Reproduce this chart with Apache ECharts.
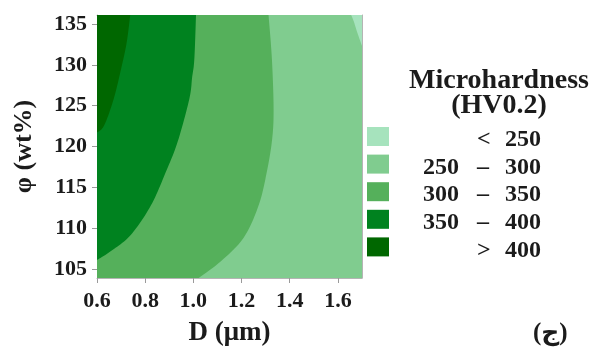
<!DOCTYPE html>
<html>
<head>
<meta charset="utf-8">
<script src="https://cdn.jsdelivr.net/npm/echarts@6/dist/echarts.min.js"></script>
<style>
  html, body { margin: 0; padding: 0; background: #fff; }
  #chart { width: 592px; height: 352px; }
</style>
</head>
<body>
<div id="chart"></div>
<script>
// Axis extents and tick values
const dRange = [0.6, 1.7];
const phiRange = [103.9, 136.1];
const dTicks = [0.6, 0.8, 1.0, 1.2, 1.4, 1.6];
const phiTicks = [105, 110, 115, 120, 125, 130, 135];

// Microhardness classes (HV0.2), lowest first
const levelBounds = [[null, 250], [250, 300], [300, 350], [350, 400], [400, null]];
const levelColors = ['#a6e3bd', '#80cc8f', '#55b05b', '#00821f', '#006700'];

// Contour lines as [D, phi] points, listed from the top edge downwards
const iso250 = [[1.655, 136.1], [1.666, 135.3], [1.680, 134.0], [1.700, 132.3]];
const iso300 = [[1.312, 136.1], [1.326, 130.7], [1.333, 124.6], [1.327, 120.9], [1.305, 116.9],
                [1.271, 112.8], [1.208, 108.8], [1.112, 105.9], [1.022, 103.9]];
const iso350 = [[1.011, 136.1], [1.004, 130.7], [0.995, 128.5], [0.983, 125.8], [0.935, 120.6],
                [0.886, 116.9], [0.824, 112.8], [0.741, 109.2], [0.658, 107.2], [0.600, 106.1]];
const iso400 = [[0.738, 136.1], [0.723, 132.7], [0.700, 129.5], [0.669, 125.8], [0.630, 122.6],
                [0.600, 121.7]];

function levelName(b) {
  if (b[0] === null) return '< ' + b[1];
  if (b[1] === null) return '> ' + b[0];
  return b[0] + ' – ' + b[1];
}
const levelNames = levelBounds.map(levelName);

// Filled region of each class, painted back to front:
// edge = contour line bounding the region, corners = plot corners closing it
const [d0, d1] = dRange;
const [p0, p1] = phiRange;
const regions = [
  { level: 1, edge: [], corners: [[d0, p1], [d1, p1], [d1, p0], [d0, p0]] },
  { level: 2, edge: iso300, corners: [[d0, p0], [d0, p1]] },
  { level: 3, edge: iso350, corners: [[d0, p1]] },
  { level: 4, edge: iso400, corners: [[d0, p1]] },
  { level: 0, edge: iso250, corners: [[d1, p1]] }
];

// Catmull-Rom pass through the screen points so the contour is drawn as a smooth curve
function smoothPath(pts, steps) {
  if (pts.length < 3) return pts.slice();
  const out = [];
  for (let i = 0; i < pts.length - 1; i++) {
    const a = pts[Math.max(i - 1, 0)];
    const b = pts[i];
    const c = pts[i + 1];
    const d = pts[Math.min(i + 2, pts.length - 1)];
    for (let s = 0; s < steps; s++) {
      const t = s / steps, t2 = t * t, t3 = t2 * t;
      out.push([0, 1].map(k => 0.5 * (2 * b[k] + (-a[k] + c[k]) * t +
        (2 * a[k] - 5 * b[k] + 4 * c[k] - d[k]) * t2 +
        (-a[k] + 3 * b[k] - 3 * c[k] + d[k]) * t3)));
    }
  }
  out.push(pts[pts.length - 1]);
  return out;
}

const serifFont = '"Liberation Serif", "Times New Roman", serif';
const textColor = '#1b1b1b';

const series = regions.map((r, i) => ({
  type: 'custom',
  name: levelNames[r.level],
  z: 2 + i,
  clip: true,
  silent: true,
  itemStyle: { color: levelColors[r.level] },
  data: r.edge.concat(r.corners),
  renderItem: function (params, api) {
    if (params.dataIndex !== 0) return null;
    const curve = smoothPath(r.edge.map(p => api.coord(p)), 12);
    const points = curve.concat(r.corners.map(p => api.coord(p)));
    return {
      type: 'polygon',
      shape: { points: points },
      style: { fill: levelColors[r.level], stroke: null }
    };
  }
}));

const legendToken = { fontFamily: serifFont, fontWeight: 'bold', fontSize: 24, lineHeight: 20, height: 20, color: textColor, align: 'left', verticalAlign: 'bottom' };

const chart = echarts.init(document.getElementById('chart'), null, { renderer: 'canvas' });

chart.setOption({
  animation: false,
  backgroundColor: '#ffffff',
  title: {
    text: 'Microhardness\n(HV0.2)',
    left: 494,
    top: 63,
    textAlign: 'center',
    textStyle: {
      fontFamily: serifFont,
      fontWeight: 'bold',
      fontSize: 28,
      lineHeight: 25,
      color: textColor
    }
  },
  legend: {
    orient: 'vertical',
    left: 367,
    top: 123,
    padding: 0,
    icon: 'rect',
    itemWidth: 22,
    itemHeight: 19,
    itemGap: -1.4,
    selectedMode: false,
    data: levelNames,
    formatter: function (name) {
      const b = levelBounds[levelNames.indexOf(name)];
      if (b[0] === null) return '{a|\u00a0}{b|<}{c|' + b[1] + '}';
      if (b[1] === null) return '{a|\u00a0}{b|>}{c|' + b[0] + '}';
      return '{a|' + b[0] + '}{b|–}{c|' + b[1] + '}';
    },
    textStyle: {
      fontFamily: serifFont,
      fontWeight: 'bold',
      fontSize: 24,
      lineHeight: 20,
      color: textColor,
      padding: [7, 0, 0, 29],
      rich: {
        a: Object.assign({ width: 54 }, legendToken),
        b: Object.assign({ width: 28 }, legendToken),
        c: Object.assign({ width: 40 }, legendToken)
      }
    }
  },
  grid: {
    left: 97,
    top: 15,
    right: 230,
    bottom: 72,
    containLabel: false
  },
  xAxis: [{
    type: 'value',
    min: dRange[0],
    max: dRange[1],
    name: 'D (μm)',
    nameLocation: 'middle',
    nameGap: 42,
    nameTextStyle: { fontFamily: serifFont, fontWeight: 'bold', fontSize: 27, color: textColor },
    splitLine: { show: false },
    axisLine: { show: true, onZero: false, lineStyle: { color: '#b4b4b4', width: 1 } },
    axisTick: { show: true, length: 5, customValues: dTicks, lineStyle: { color: '#9a9a9a' } },
    axisLabel: {
      customValues: dTicks,
      margin: 12,
      fontFamily: serifFont,
      fontWeight: 'bold',
      fontSize: 22,
      color: textColor,
      formatter: v => v.toFixed(1)
    }
  }, {
    type: 'value',
    position: 'top',
    min: dRange[0],
    max: dRange[1],
    splitLine: { show: false },
    axisLine: { show: true, onZero: false, lineStyle: { color: '#b4b4b4', width: 1 } },
    axisTick: { show: false },
    axisLabel: { show: false }
  }],
  yAxis: [{
    type: 'value',
    min: phiRange[0],
    max: phiRange[1],
    name: 'φ (wt%)',
    nameLocation: 'middle',
    nameGap: 60,
    nameRotate: 90,
    nameTextStyle: { fontFamily: serifFont, fontWeight: 'bold', fontSize: 26, color: textColor },
    splitLine: { show: false },
    axisLine: { show: true, onZero: false, lineStyle: { color: '#b4b4b4', width: 1 } },
    axisTick: { show: true, length: 5, customValues: phiTicks, lineStyle: { color: '#9a9a9a' } },
    axisLabel: {
      customValues: phiTicks,
      margin: 10,
      fontFamily: serifFont,
      fontWeight: 'bold',
      fontSize: 22,
      color: textColor
    }
  }, {
    type: 'value',
    position: 'right',
    min: phiRange[0],
    max: phiRange[1],
    splitLine: { show: false },
    axisLine: { show: true, onZero: false, lineStyle: { color: '#b4b4b4', width: 1 } },
    axisTick: { show: false },
    axisLabel: { show: false }
  }],
  graphic: [{
    type: 'text',
    left: 533,
    top: 321,
    style: {
      text: '(ج)',
      font: 'bold 25px "Liberation Serif", "DejaVu Sans", serif',
      fill: textColor
    }
  }],
  series: series
});
</script>
</body>
</html>
